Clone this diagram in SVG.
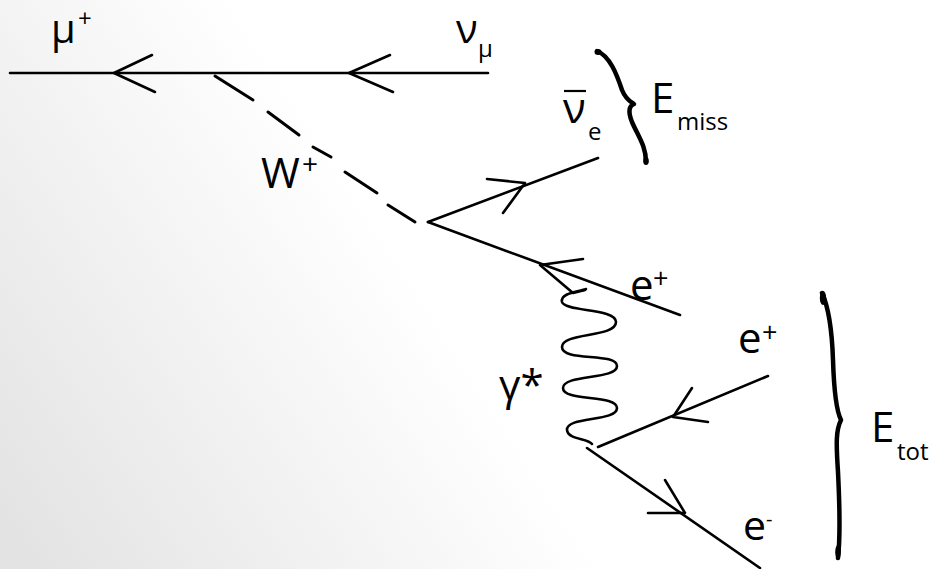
<svg xmlns="http://www.w3.org/2000/svg" width="931" height="569" viewBox="0 0 931 569">
<defs>
<linearGradient id="bg" gradientUnits="userSpaceOnUse" x1="0" y1="520" x2="400" y2="260">
<stop offset="0" stop-color="#e3e3e3"/>
<stop offset="1" stop-color="#ffffff"/>
</linearGradient>
<style>
.ln{stroke:#000;stroke-width:2.6;fill:none;stroke-linecap:round;stroke-linejoin:round}
.dash{stroke:#000;stroke-width:3;fill:none;stroke-linecap:round}
.br{stroke:#000;stroke-width:4.5;fill:none;stroke-linecap:round;stroke-linejoin:round}
.t{font-family:"Open Sans","Liberation Sans",sans-serif;fill:#000}
.big{font-size:42px}
.top{font-size:40px}
.sub{font-size:24px}
</style>
</defs>
<rect width="931" height="569" fill="url(#bg)"/>

<g id="connectors">
<line class="ln" x1="10" y1="73" x2="488" y2="73"/>
<polyline class="ln" points="152,55 114,73 155,92"/>
<polyline class="ln" points="390,55 349,73 393,92"/>
<g id="w-boson">
<line class="dash" x1="215" y1="76" x2="253" y2="100"/>
<line class="dash" x1="268" y1="112" x2="299" y2="135"/>
<line class="dash" x1="313" y1="147" x2="331" y2="157"/>
<line class="dash" x1="345" y1="172" x2="377" y2="193"/>
<line class="dash" x1="388" y1="205" x2="415" y2="222"/>
</g>
<line class="ln" x1="428" y1="222" x2="598" y2="158"/>
<polyline class="ln" points="487,179 525,183 503,213"/>
<line class="ln" x1="428" y1="222" x2="680" y2="315"/>
<polyline class="ln" points="583,259 540,265 573,293 585,290"/>
<path class="ln" d="M 586 289 C 578 292, 560 293, 562 302 C 565 312, 616 308, 616 322 C 616 338, 562 332, 562 347 C 562 362, 617 352, 617 366 C 617 380, 563 374, 563 388 C 563 402, 617 394, 617 408 C 617 422, 566 416, 567 430 C 568 440, 588 438, 592 444"/>
<line class="ln" x1="768" y1="376" x2="598" y2="447"/>
<polyline class="ln" points="692,388 673,417 708,422"/>
<line class="ln" x1="587" y1="448" x2="760" y2="568"/>
<polyline class="ln" points="665,480 685,513 648,513"/>
</g>

<g id="brace-miss">
<path class="br" d="M 597 51 C 610 56, 617 75, 622 90 C 626 100, 631 102, 634 104 C 629 106, 628 112, 632 122 C 638 136, 646 146, 646 162"/>
<ellipse cx="598" cy="52" rx="3.5" ry="3" fill="#000"/>
<ellipse cx="646" cy="161" rx="2.8" ry="4" fill="#000"/>
</g>
<g id="brace-tot">
<path class="br" d="M 822 293 C 828 306, 832 330, 833 360 C 834 392, 836 410, 841 420 C 836 430, 836 442, 838 472 C 840 512, 840 540, 838 558"/>
<ellipse cx="823" cy="298" rx="3.2" ry="7" fill="#000"/>
<ellipse cx="838" cy="552" rx="2.8" ry="7" fill="#000"/>
</g>

<g id="label-mu">
<text class="t top" x="51" y="43">μ</text>
<text class="t sub" x="78" y="27">+</text>
</g>
<g id="label-numu">
<text class="t top" x="456" y="43">ν</text>
<text class="t sub" x="478" y="57">μ</text>
</g>
<g id="label-nuebar">
<line x1="564" y1="91" x2="586" y2="91" stroke="#000" stroke-width="2.2"/>
<text class="t big" x="563" y="123">ν</text>
<text class="t sub" x="588" y="140">e</text>
</g>
<g id="label-emiss">
<text class="t big" x="651" y="113">E</text>
<text class="t sub" x="677" y="130">miss</text>
</g>
<g id="label-w">
<text class="t big" x="261" y="188">W</text>
<text class="t" font-size="28" x="302" y="174">+</text>
</g>
<g id="label-eplus1">
<text class="t big" x="630" y="300">e</text>
<text class="t" font-size="27" x="653" y="288">+</text>
</g>
<g id="label-eplus2">
<text class="t big" x="738" y="353">e</text>
<text class="t" font-size="27" x="762" y="342">+</text>
</g>
<g id="label-gamma">
<text class="t big" x="499" y="400">γ*</text>
</g>
<g id="label-eminus">
<text class="t" font-size="41" x="743" y="540">e</text>
<text class="t" font-size="20" x="766" y="526">-</text>
</g>
<g id="label-etot">
<text class="t big" x="871" y="442">E</text>
<text class="t sub" x="897" y="460">tot</text>
</g>
</svg>
